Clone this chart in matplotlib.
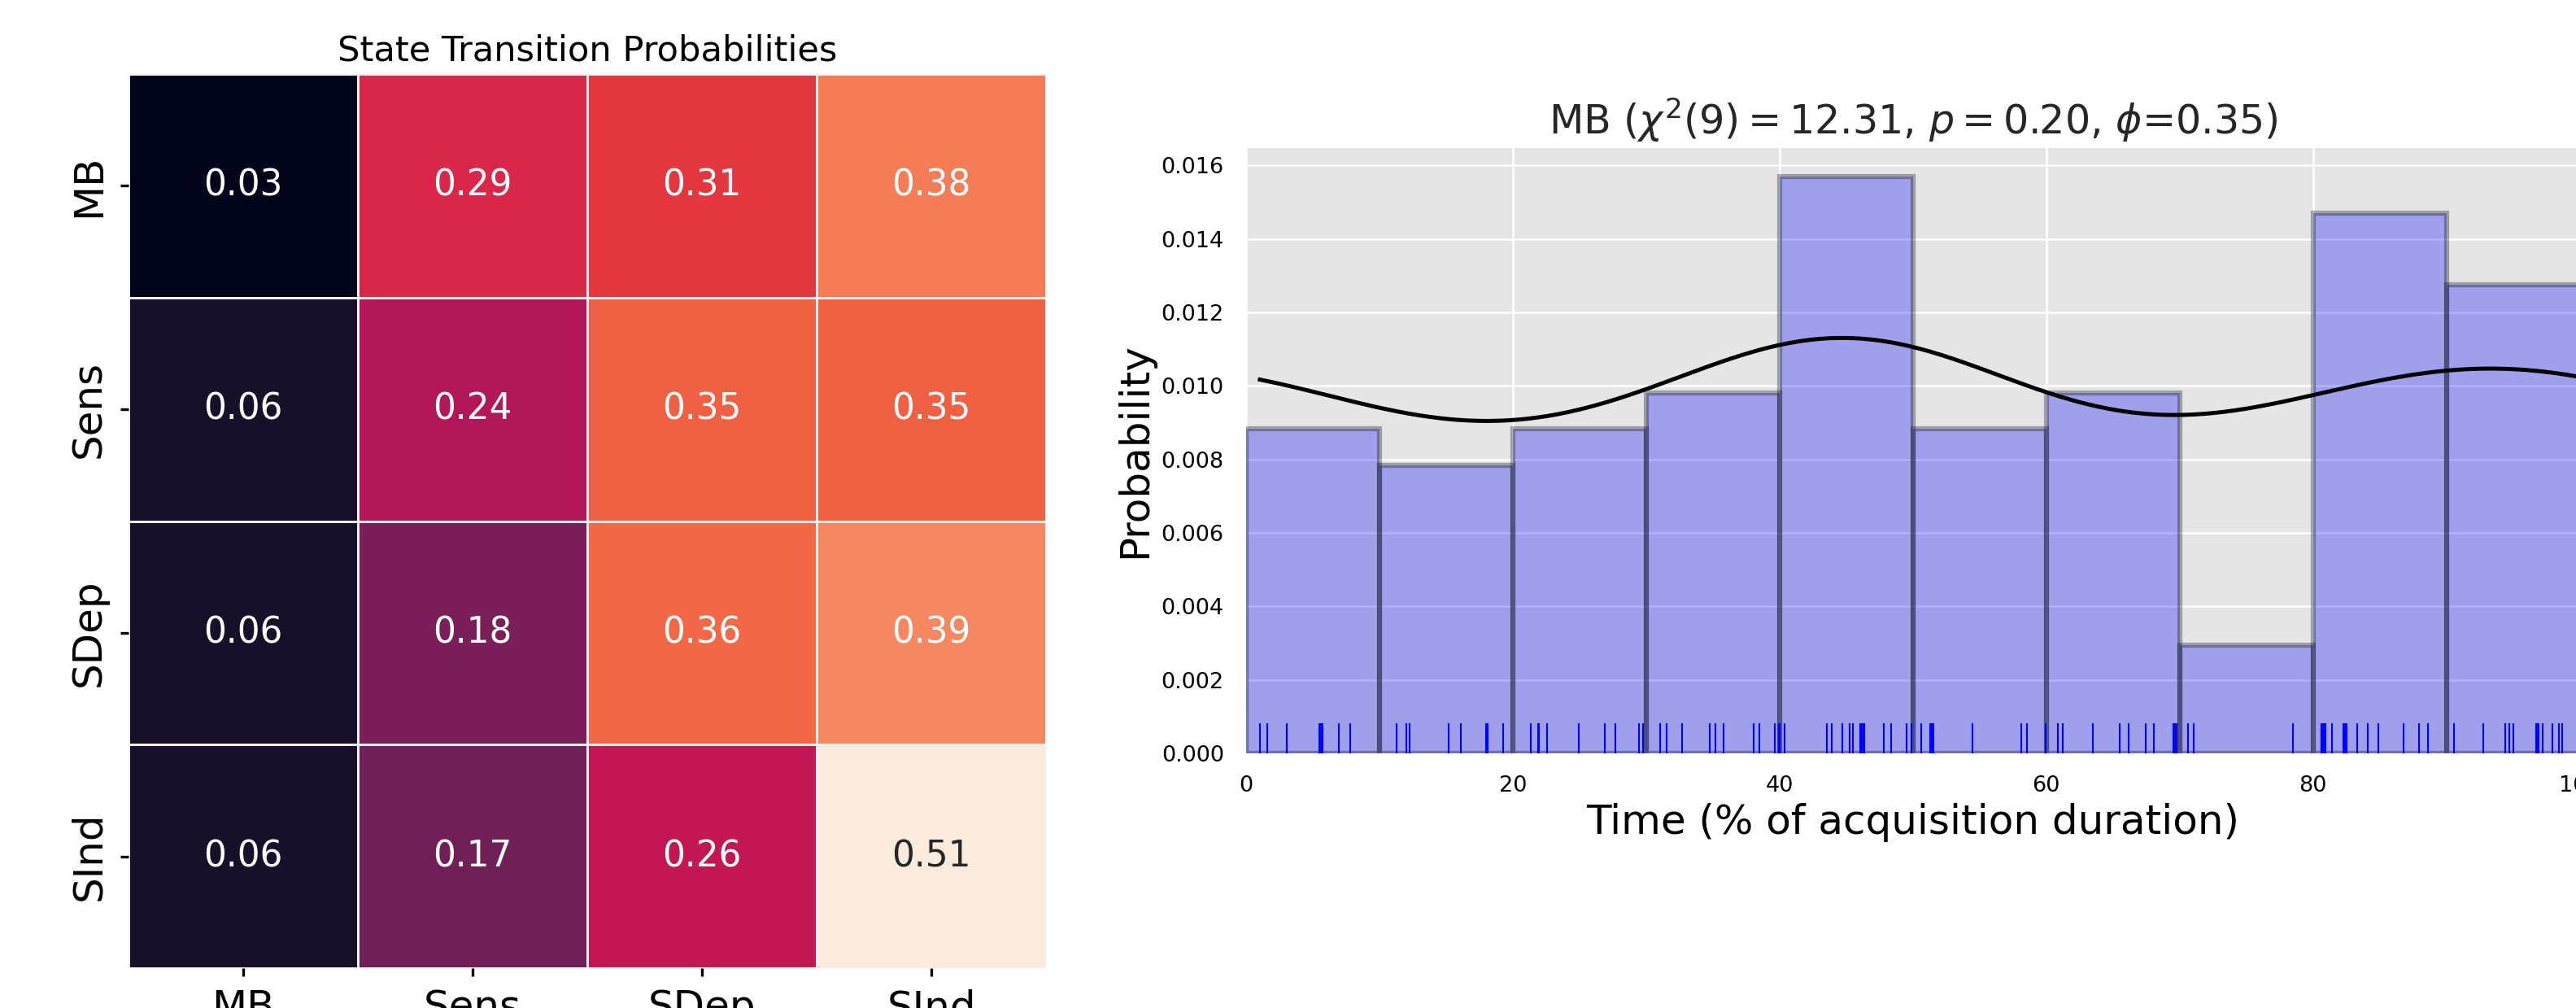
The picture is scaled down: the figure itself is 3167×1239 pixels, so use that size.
import matplotlib
matplotlib.use("Agg")
import matplotlib.pyplot as plt
import numpy as np
import seaborn as sns

states = ["MB", "Sens", "SDep", "SInd"]
transition_probs = np.array([
    [0.03, 0.29, 0.31, 0.38],
    [0.06, 0.24, 0.35, 0.35],
    [0.06, 0.18, 0.36, 0.39],
    [0.06, 0.17, 0.26, 0.51],
])

# MB onsets, in % of acquisition duration
mb_onsets = np.array([
    1.04, 1.57, 3.07, 3.07, 5.50, 5.62, 5.75, 6.97, 7.80,
    11.28, 12.03, 12.28, 15.22, 16.08, 17.98, 18.12, 19.25,
    21.38, 21.89, 21.99, 22.60, 24.92, 26.91, 27.68, 29.47, 29.76,
    31.04, 31.54, 32.70, 34.76, 35.20, 35.81, 38.05, 38.46, 39.63, 39.95,
    40.02, 40.37, 43.52, 43.90, 44.70, 45.26, 45.51, 46.02, 46.10, 46.18,
    46.26, 46.38, 47.80, 48.37, 49.51, 49.88,
    50.61, 51.28, 51.36, 51.45, 51.52, 54.49, 58.13, 58.56, 59.94,
    60.89, 61.22, 63.46, 65.49, 66.20, 67.46, 68.09, 69.50, 69.62, 69.75,
    70.65, 71.06, 78.48,
    80.60, 80.65, 80.75, 80.85, 80.90, 81.40, 82.30, 82.40, 82.50, 83.33,
    84.07, 84.90, 86.77, 87.95, 88.60,
    90.57, 92.74, 94.39, 94.70, 95.02, 96.70, 96.80, 96.90, 97.20, 97.97,
    98.41, 98.68, 99.85,
])

bin_edges = np.arange(0, 101, 10)
chi2_dof = 9
chi2_stat = 12.31
p_value = 0.20
phi = 0.35
kde_sigma = 12.5

fig = plt.figure(figsize=(3167 / 300, 1239 / 300), dpi=300)

# transition matrix
ax_hm = fig.add_axes([0.0499, 0.0395, 0.3562, 0.887])
sns.heatmap(transition_probs, annot=True, fmt=".2f", cmap="rocket", cbar=False,
            linewidths=0.3, linecolor="#f0f0f0",
            xticklabels=states, yticklabels=states,
            annot_kws={"size": 10.5}, ax=ax_hm)
ax_hm.set_title("State Transition Probabilities", fontsize=10.4, pad=4)
ax_hm.tick_params(labelsize=12, length=2.5, width=0.8)
plt.setp(ax_hm.get_yticklabels(), rotation=90, va="center")
plt.setp(ax_hm.get_xticklabels(), rotation=0)

# onset distribution over the acquisition
ax = fig.add_axes([0.4837, 0.2526, 0.5178, 0.6005])
ax.set_facecolor("#E5E5E5")
ax.grid(color="white", linewidth=0.6)
ax.set_axisbelow(True)
for s in ax.spines.values():
    s.set_visible(False)

heights, _, _ = ax.hist(mb_onsets, bins=bin_edges, density=True, color="blue",
                        alpha=0.3, edgecolor="black", linewidth=1.5)

# circular gaussian kde (period = 100 %)
xs = np.linspace(mb_onsets.min(), mb_onsets.max(), 400)
diff = xs[:, None] - mb_onsets[None, :]
dens = sum(np.exp(-0.5 * ((diff + k * 100) / kde_sigma) ** 2) for k in (-1, 0, 1))
dens = dens.sum(axis=1) / (len(mb_onsets) * kde_sigma * np.sqrt(2 * np.pi))
ax.plot(xs, dens, color="black", lw=1.2)

ax.vlines(mb_onsets, 0, 0.05, transform=ax.get_xaxis_transform(),
          color="blue", lw=0.5)

ax.set_xlim(0, 100)
ax.set_ylim(0, heights.max() * 1.05)
ax.tick_params(labelsize=6.5, length=0, pad=6.5)
ax.set_title(rf"MB ($\chi^2({chi2_dof}) = {chi2_stat:.2f}$, $p = {p_value:.2f}$, $\phi$={phi:.2f})",
             fontsize=11.8, color="#262626", pad=4)
ax.set_xlabel("Time (% of acquisition duration)", fontsize=12, labelpad=2)
ax.set_ylabel("Probability", fontsize=12, labelpad=2)

fig.savefig("out.png", dpi=300)
